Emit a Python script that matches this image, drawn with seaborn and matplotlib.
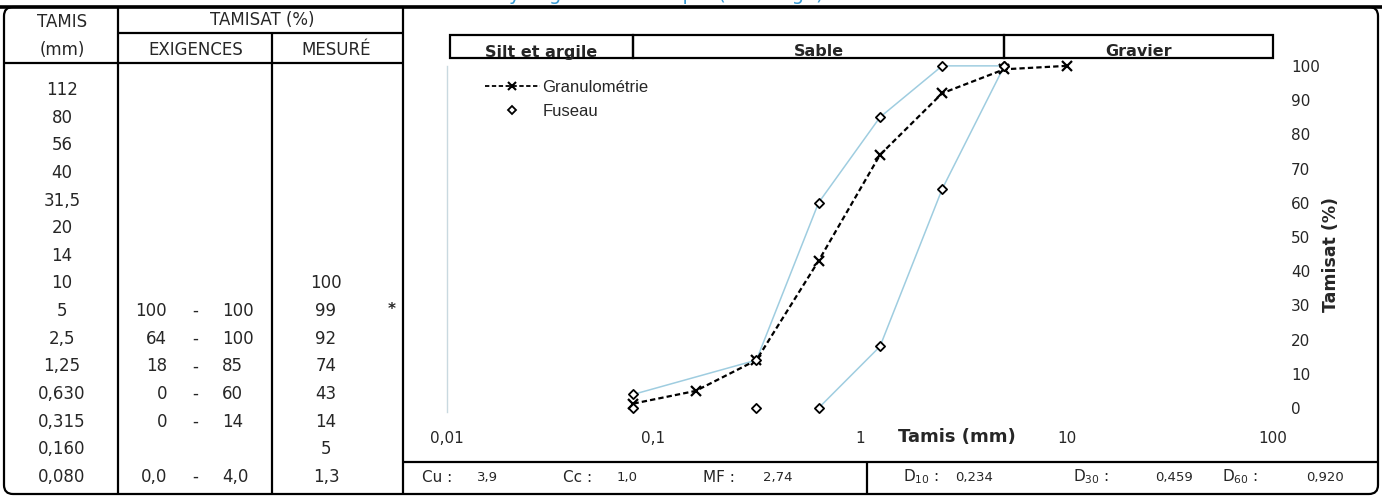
import numpy as np
import matplotlib
matplotlib.use("Agg")
import matplotlib.pyplot as plt
import matplotlib.lines as mlines
from matplotlib.patches import FancyBboxPatch, Rectangle
import matplotlib.transforms as mtransforms
import seaborn as sns

# ---- data ----
table_sieves = ["112", "80", "56", "40", "31,5", "20", "14", "10", "5", "2,5",
                "1,25", "0,630", "0,315", "0,160", "0,080"]
tamis_mm = [0.08, 0.16, 0.315, 0.63, 1.25, 2.5, 5, 10]
mesure = [1.3, 5, 14, 43, 74, 92, 99, 100]
fuseau_mm = [0.08, 0.315, 0.63, 1.25, 2.5, 5]
fuseau_min = [0, 0, 0, 18, 64, 100]
fuseau_max = [4, 14, 60, 85, 100, 100]
classes = ["Silt et argile", "Sable", "Gravier"]
class_limits = [0.01, 0.08, 5, 100]
xtick_vals = [0.01, 0.1, 1, 10, 100]
xtick_labels = ["0,01", "0,1", "1", "10", "100"]
coef_labels = ["Cu :", "Cc :", "MF :"]
coef_values = ["3,9", "1,0", "2,74"]
d_labels = ["D$_{10}$ :", "D$_{30}$ :", "D$_{60}$ :"]
d_values = ["0,234", "0,459", "0,920"]

W, H = 1382, 497
sns.set_style("white")
plt.rcParams["font.family"] = ["DejaVu Sans"]

fig = plt.figure(figsize=(W / 100, H / 100), dpi=100)

# overlay in pixel coordinates for the report frame / table
frame = fig.add_axes([0, 0, 1, 1], zorder=0)
frame.set_xlim(0, W)
frame.set_ylim(H, 0)
frame.axis("off")

lk = dict(color="black", lw=1.6, solid_capstyle="butt")
frame.add_patch(FancyBboxPatch((4, 7), 1374, 487, boxstyle="round,pad=0,rounding_size=9",
                               fill=False, ec="black", lw=1.6))
frame.plot([0, W], [6.5, 6.5], color="black", lw=2.6)
frame.plot([118, 118], [7, 494], **lk)
frame.plot([272, 272], [33, 494], **lk)
frame.plot([403, 403], [7, 494], **lk)
frame.plot([118, 403], [33, 33], **lk)
frame.plot([4, 403], [63, 63], **lk)
frame.plot([403, 1378], [462, 462], **lk)
frame.plot([867, 867], [462, 494], **lk)

# blue report title, cut off by the top edge as in the scan
frame.text(645, -0.5, "Analyse granulométrique (tamisage)", color="#3a9ad3",
           fontsize=14, ha="center", va="baseline")

# table headers
fs = 12
frame.text(62, 22, "TAMIS", ha="center", va="center", fontsize=fs)
frame.text(62, 50, "(mm)", ha="center", va="center", fontsize=fs)
frame.text(262, 20, "TAMISAT (%)", ha="center", va="center", fontsize=fs)
frame.text(196, 50, "EXIGENCES", ha="center", va="center", fontsize=fs)
frame.text(336, 50, "MESURÉ", ha="center", va="center", fontsize=fs)


def fr(v, dec=None):
    s = f"{v:.{dec}f}" if dec is not None else f"{v:g}"
    return s.replace(".", ",")


row_y = 90
step = 27.64
for i, lab in enumerate(table_sieves):
    y = row_y + i * step
    frame.text(62, y, lab, ha="center", va="center", fontsize=fs)
    val = float(lab.replace(",", "."))
    if val in tamis_mm:
        frame.text(326, y, fr(mesure[tamis_mm.index(val)]), ha="center", va="center", fontsize=fs)
    if val in fuseau_mm:
        j = fuseau_mm.index(val)
        dec = 1 if val < 0.1 else None
        frame.text(167, y, fr(fuseau_min[j], dec), ha="right", va="center", fontsize=fs)
        frame.text(195, y, "-", ha="center", va="center", fontsize=fs)
        frame.text(222, y, fr(fuseau_max[j], dec), ha="left", va="center", fontsize=fs)
    if lab == "5":
        frame.text(392, y - 2, "*", ha="center", va="center", fontsize=11, fontweight="bold")

# bottom characteristic row
for lab, val, x0, x1 in zip(coef_labels, coef_values, [422, 563, 703], [487, 627, 778]):
    frame.text(x0, 478, lab, ha="left", va="center", fontsize=11)
    frame.text(x1, 478, val, ha="center", va="center", fontsize=9.5)
for lab, val, x0, x1 in zip(d_labels, d_values, [903, 1073, 1222], [974, 1174, 1325]):
    frame.text(x0, 477, lab, ha="left", va="center", fontsize=11)
    frame.text(x1, 478, val, ha="center", va="center", fontsize=9.5)

# ---- chart ----
ax = fig.add_axes([447 / W, (H - 420) / H, 826 / W, 362 / H], zorder=2)
ax.patch.set_alpha(0)
ax.set_xscale("log")
ax.set_xlim(0.01, 100)
ax.set_ylim(-3.5, 102.3)

fus_color = "#9fcde0"
sns.lineplot(x=fuseau_mm, y=fuseau_max, ax=ax, color=fus_color, lw=1.1, sort=False)
start = max(i for i, v in enumerate(fuseau_min) if v == 0)
sns.lineplot(x=fuseau_mm[start:], y=fuseau_min[start:], ax=ax, color=fus_color, lw=1.1, sort=False)
sns.lineplot(x=tamis_mm, y=mesure, ax=ax, color="black", lw=1.6, linestyle=(0, (2.4, 1.4)),
             marker="x", markersize=7, markeredgewidth=1.6, markeredgecolor="black", sort=False)
sns.scatterplot(x=fuseau_mm + fuseau_mm, y=fuseau_min + fuseau_max, ax=ax, marker="D", s=22,
                facecolor="white", edgecolor="black", linewidth=1.3, zorder=5)

# class header boxes above the plot
trans = mtransforms.blended_transform_factory(ax.transData, ax.transAxes)
ytop = (420 - 35) / 362
for name, a, b in zip(classes, class_limits[:-1], class_limits[1:]):
    a = max(a, 0.0103)
    ax.add_patch(Rectangle((a, 1.0), b - a, ytop - 1.0, transform=trans, fill=False,
                           ec="black", lw=1.6, clip_on=False))
    ax.text(np.sqrt(a * b), 1.0 + 1.5 / 362, name, transform=trans, ha="center", va="baseline",
            fontsize=11.5, fontweight="bold")

for s in ["top", "right", "bottom"]:
    ax.spines[s].set_visible(False)
ax.spines["left"].set_color("#c9d9e0")
ax.spines["left"].set_linewidth(1)
ax.spines["left"].set_bounds(-1.2, 100)

ax.set_xticks(xtick_vals)
ax.set_xticklabels(xtick_labels)
ax.xaxis.set_minor_locator(matplotlib.ticker.NullLocator())
ax.tick_params(axis="x", length=0, pad=8, labelsize=11)
ax.yaxis.tick_right()
ax.set_yticks(range(0, 101, 10))
ax.tick_params(axis="y", length=0, pad=13, labelsize=11)

ax.set_xlabel("Tamis (mm)", fontsize=13, fontweight="bold")
ax.xaxis.set_label_coords((957 - 447) / 826, (420 - 437) / 362)
ax.xaxis.label.set_va("center")
ax.set_ylabel("Tamisat (%)", fontsize=12.5, fontweight="bold")
ax.yaxis.set_label_position("right")
ax.yaxis.set_label_coords((1331 - 447) / 826, (420 - 255) / 362)
ax.yaxis.label.set_va("center")

handles = [
    mlines.Line2D([], [], color="black", lw=1.3, linestyle=(0, (2.4, 1.4)), marker="x",
                  markersize=6, markeredgewidth=1.5, label="Granulométrie"),
    mlines.Line2D([], [], color="none", marker="D", markersize=4.5, markerfacecolor="white",
                  markeredgecolor="black", markeredgewidth=1.3, label="Fuseau"),
]
leg = ax.legend(handles=handles, loc="upper left", bbox_to_anchor=(0.046, 0.94), frameon=False,
                borderaxespad=0, borderpad=0, handlelength=3.3, handletextpad=0.15,
                labelspacing=0.55, prop={"family": "Liberation Sans", "size": 12})

fig.savefig("out.png", dpi=100)
